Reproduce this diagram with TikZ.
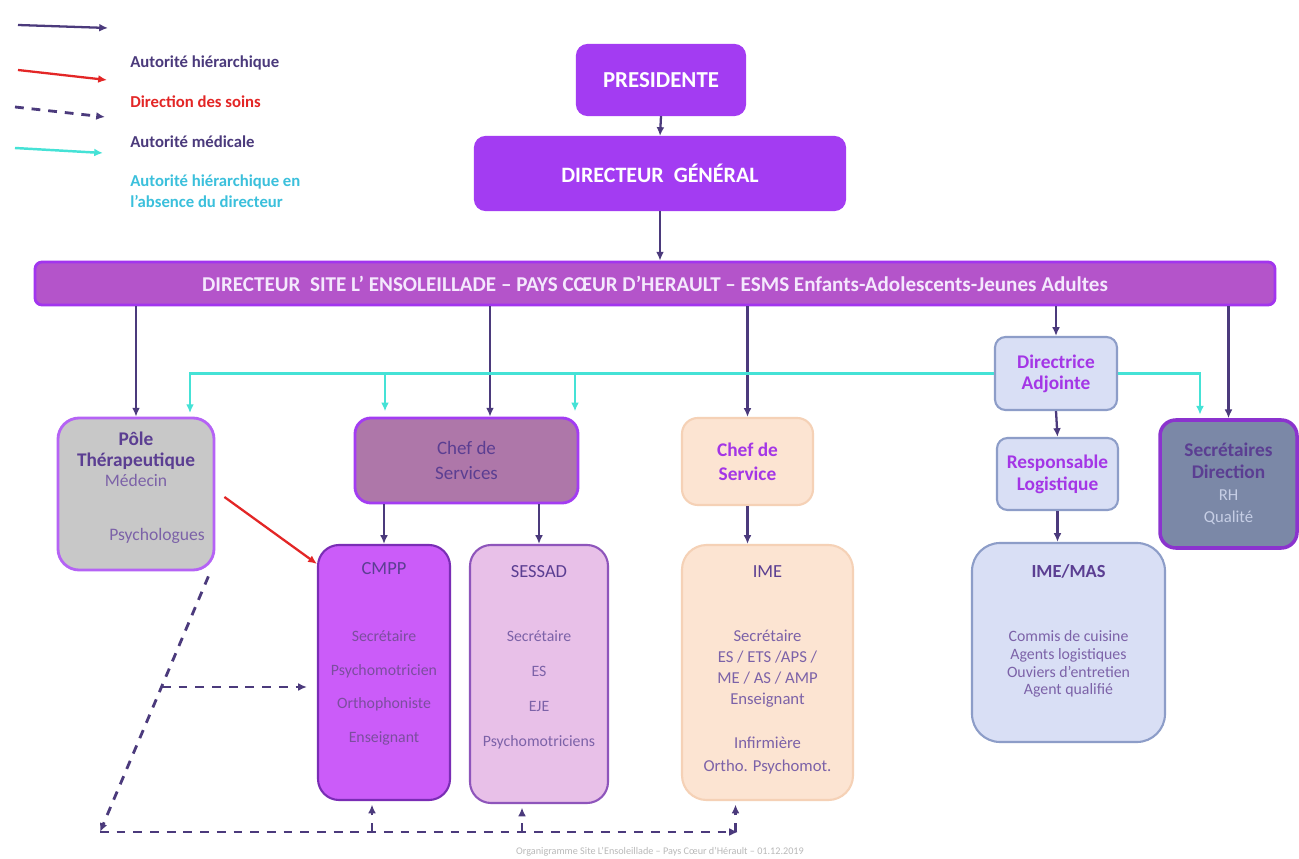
\documentclass[tikz,border=0pt]{standalone}
\usepackage{fontspec}
\setmainfont{Carlito}
\usetikzlibrary{arrows.meta,positioning}
\definecolor{pviolet}{HTML}{A33CF2}
\definecolor{barfill}{HTML}{B454CA}
\definecolor{barline}{HTML}{A235EE}
\definecolor{ink}{HTML}{4B3A7C}
\definecolor{aqua}{HTML}{45E2D6}
\definecolor{soins}{HTML}{E32626}
\definecolor{polegray}{HTML}{C8C8C8}
\definecolor{mauve}{HTML}{AE77A9}
\definecolor{cmppfill}{HTML}{CB5CF9}
\definecolor{lilac}{HTML}{E8C0E8}
\definecolor{peach}{HTML}{FCE4D2}
\definecolor{peachline}{HTML}{F5D1B6}
\definecolor{bluefill}{HTML}{D9DFF5}
\definecolor{blueline}{HTML}{8D9DC8}
\definecolor{slate}{HTML}{7B88A7}
\definecolor{deeptext}{HTML}{5B3E92}
\definecolor{softtext}{HTML}{7C62A8}
\definecolor{brighttext}{HTML}{A436E6}
\definecolor{foot}{HTML}{B9B9B9}
\tikzset{>={Latex[length=5pt,width=4.5pt]},box/.style={rounded corners=6pt,align=center,inner sep=2pt,line width=1.2pt},arr/.style={->,line width=1.3pt,ink},soin/.style={->,line width=1.3pt,soins},med/.style={->,line width=1.6pt,ink,dash pattern=on 5pt off 4.5pt},cyanarr/.style={->,line width=1.4pt,aqua},legend/.style={anchor=west,font=\fontsize{9.5}{11}\selectfont\bfseries,inner sep=0pt},ttl/.style={font=\fontsize{10.5}{12}\selectfont,inner sep=1pt},lst/.style={align=center,inner sep=1pt}}

\begin{document}
\begin{tikzpicture}[x=0.2mm,y=-0.2mm]
\fill[white] (0,0) rectangle (1299,859);
\useasboundingbox (0,0) rectangle (1299,859);
% legende
\coordinate (l1a) at (18,25); \coordinate (l1b) at (108,28);
\coordinate (l2a) at (18,70); \coordinate (l2b) at (107,80);
\coordinate (l3a) at (15,107); \coordinate (l3b) at (105,117);
\coordinate (l4a) at (15,148); \coordinate (l4b) at (103,153);
\draw[arr] (l1a) -- (l1b);
\draw[soin] (l2a) -- (l2b);
\draw[med] (l3a) -- (l3b);
\draw[cyanarr] (l4a) -- (l4b);
\node[legend,text=ink] (lg1) at (130,63) {Autorité hiérarchique};
\node[legend,text=soins] (lg2) at (130,102) {Direction des soins};
\node[legend,text=ink] (lg3) at (130,142) {Autorité médicale};
\node[legend,text=aqua!85!blue,align=left,font=\fontsize{9.5}{12}\selectfont\bfseries] (lg4) at (130,191) {Autorité hiérarchique en\\l'absence du directeur};
% direction
\node[box,fill=pviolet,draw=pviolet,minimum width=3.36cm,minimum height=1.4cm,text=white,font=\fontsize{13}{15}\selectfont\bfseries] (pres) at (661,80) {PRESIDENTE};
\node[box,fill=pviolet,draw=pviolet,minimum width=7.4cm,minimum height=1.46cm,text=white,font=\fontsize{12.5}{15}\selectfont\bfseries] (dg) at (660,173.5) {DIRECTEUR~~GÉNÉRAL};
\node[box,rounded corners=4pt,fill=barfill,draw=barline,line width=1.6pt,minimum width=24.8cm,minimum height=0.86cm,text=white!88!pviolet,font=\fontsize{12}{14}\selectfont\bfseries] (site) at (655,283.5) {DIRECTEUR~ SITE L' ENSOLEILLADE – PAYS CŒUR D'HERAULT – ESMS Enfants-Adolescents-Jeunes Adultes};
% services
\node[box,rounded corners=12pt,fill=polegray,draw=pviolet!80,line width=1.6pt,minimum width=3.12cm,minimum height=3.04cm] (pole) at (136,494) {};
\node[ttl,align=center,text=deeptext,font=\fontsize{11}{11.6}\selectfont\bfseries] (polet) at ([yshift=-0.68cm]pole.north) {Pôle\\Thérapeutique};
\node[ttl,text=softtext,font=\fontsize{10}{11}\selectfont] (pole1) at ([yshift=-1.28cm]pole.north) {Médecin};
\node[ttl,text=softtext,font=\fontsize{10}{11}\selectfont] (pole2) at ([xshift=0.42cm,yshift=-2.38cm]pole.north) {Psychologues};
\node[box,rounded corners=9pt,fill=mauve,draw=pviolet,line width=1.6pt,minimum width=4.46cm,minimum height=1.7cm,text=deeptext,font=\fontsize{10.8}{14.2}\selectfont] (chefs) at (466.5,460.5) {Chef de\\Services};
\node[box,rounded corners=9pt,fill=peach,draw=peachline,minimum width=2.62cm,minimum height=1.74cm,text=brighttext,font=\fontsize{11}{13.5}\selectfont\bfseries] (chefime) at (747.5,461.5) {Chef de\\Service};
\node[box,fill=bluefill,draw=blueline,minimum width=2.44cm,minimum height=1.46cm,text=brighttext,font=\fontsize{11}{12}\selectfont\bfseries] (diradj) at (1056,373.5) {Directrice\\Adjointe};
\node[box,fill=bluefill,draw=blueline,minimum width=2.42cm,minimum height=1.44cm,text=brighttext,font=\fontsize{11}{12.5}\selectfont\bfseries] (resp) at (1057.5,474) {Responsable\\Logistique};
\node[box,rounded corners=9pt,fill=slate,draw=pviolet!85!black,line width=2pt,minimum width=2.74cm,minimum height=2.56cm,text=deeptext,font=\fontsize{11}{12.5}\selectfont] (secr) at (1228.5,484) {\textbf{Secrétaires}\\\textbf{Direction}\\{\fontsize{9.5}{12.5}\selectfont\color{bluefill!80!slate}RH}\\{\fontsize{9.5}{12.5}\selectfont\color{bluefill!80!slate}Qualité}};
% etablissements
\node[box,rounded corners=12pt,fill=cmppfill,draw=pviolet!75!black,minimum width=2.64cm,minimum height=5.1cm] (cmpp) at (384,672.5) {};
\node[ttl,text=deeptext] (cmppt) at ([yshift=-0.5cm]cmpp.north) {CMPP};
\node[lst,text=pviolet!55!black!80,font=\fontsize{9}{19.3}\selectfont] (cmppl) at ([yshift=-2.88cm]cmpp.north) {Secrétaire\\Psychomotricien\\Orthophoniste\\Enseignant};
\node[box,rounded corners=12pt,fill=lilac,draw=pviolet!70!black!80,minimum width=2.76cm,minimum height=5.16cm] (sessad) at (539,674) {};
\node[ttl,text=deeptext] (sessadt) at ([yshift=-0.56cm]sessad.north) {SESSAD};
\node[lst,text=softtext,font=\fontsize{9}{19.9}\selectfont] (sessadl) at ([yshift=-2.91cm]sessad.north) {Secrétaire\\ES\\EJE\\Psychomotriciens};
\node[box,rounded corners=14pt,fill=peach,draw=peachline,minimum width=3.42cm,minimum height=5.1cm] (ime) at (767.5,672.5) {};
\node[ttl,text=deeptext] (imet) at ([yshift=-0.56cm]ime.north) {IME};
\node[lst,text=softtext,font=\fontsize{9.5}{12}\selectfont] (imel) at ([yshift=-2.5cm]ime.north) {Secrétaire\\ES / ETS /APS /\\ME / AS / AMP\\Enseignant};
\node[lst,text=softtext,font=\fontsize{9.5}{13}\selectfont] (imel2) at ([yshift=-4.23cm]ime.north) {Infirmière\\Ortho. Psychomot.};
\node[box,rounded corners=16pt,fill=bluefill,draw=blueline,minimum width=3.86cm,minimum height=3.98cm] (imemas) at (1068.5,642.5) {};
\node[ttl,text=deeptext,font=\fontsize{10.5}{12}\selectfont\bfseries] (imemast) at ([yshift=-0.6cm]imemas.north) {IME/MAS};
\node[lst,text=softtext,font=\fontsize{9}{10.2}\selectfont] (imemasl) at ([yshift=-2.44cm]imemas.north) {Commis de cuisine\\Agents logistiques\\Ouviers d'entretien\\Agent qualifié};
\node[text=foot,font=\fontsize{5.8}{7}\selectfont] (foot) at (660,852) {Organigramme Site L'Ensoleillade – Pays Cœur d'Hérault – 01.12.2019};
% autorite hierarchique
\draw[arr] (pres.south) -- (dg.north);
\draw[arr] (dg.south) -- (dg.south |- site.north);
\foreach \n in {pole,chefime,diradj,secr}
  \draw[arr] (site.south -| \n.north) -- (\n.north);
\coordinate (chefsin) at ([xshift=0.47cm]chefs.north);
\draw[arr] (site.south -| chefsin) -- (chefsin);
\draw[arr] (chefs.south -| cmpp.north) -- (cmpp.north);
\draw[arr] (chefs.south -| sessad.north) -- (sessad.north);
\draw[arr] (chefime.south) -- (chefime.south |- ime.north);
\draw[arr] (diradj.south) -- (resp.north);
\draw[arr] (resp.south) -- (resp.south |- imemas.north);
% absence du directeur
\draw[cyanarr] (diradj.west) -| ([xshift=1.08cm,yshift=2pt]pole.north);
\draw[cyanarr] ([xshift=-1.63cm]chefs.north |- diradj.west) -- ([xshift=-1.63cm,yshift=3pt]chefs.north);
\draw[cyanarr] ([xshift=2.17cm]chefs.north |- diradj.west) -- ([xshift=2.17cm,yshift=3pt]chefs.north);
\draw[cyanarr] (diradj.east) -| ([xshift=-0.57cm,yshift=2pt]secr.north);
% direction des soins
\draw[soin] ([xshift=0.18cm,yshift=-0.06cm]pole.east) -- ([yshift=-0.4cm]cmpp.north west);
% autorite medicale
\coordinate (dc) at (100,832);
\coordinate (dm) at (162,687);
\coordinate (dend) at (738,832);
\draw[med] ([xshift=-0.14cm,yshift=-0.1cm]pole.south east) -- (dc);
\draw[med] (dc) -- (dend);
\draw[med] (dm) -- ([xshift=-0.2cm]cmpp.west |- dm);
\draw[med] ([xshift=-0.24cm]cmpp.south |- dc) -- ([xshift=-0.24cm,yshift=-2pt]cmpp.south);
\draw[med] ([xshift=-0.34cm]sessad.south |- dc) -- ([xshift=-0.34cm,yshift=-2pt]sessad.south);
\draw[med] ([xshift=-0.64cm]ime.south |- dc) -- ([xshift=-0.64cm,yshift=-2pt]ime.south);
\end{tikzpicture}
\end{document}
